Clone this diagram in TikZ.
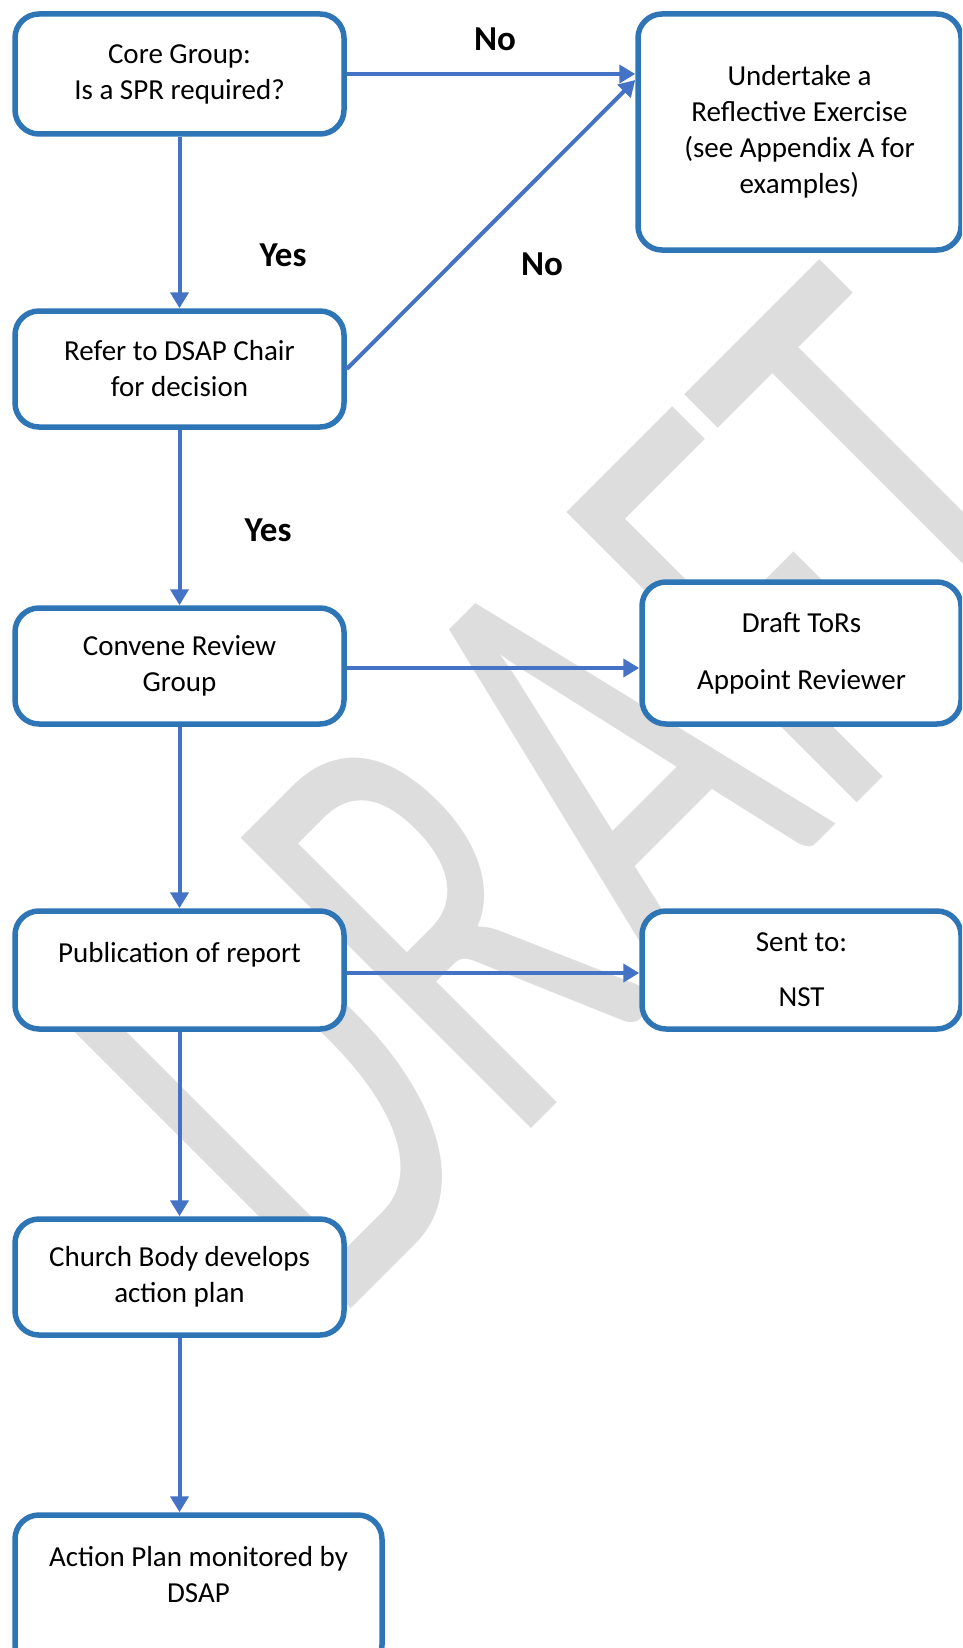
\documentclass[tikz,border=0pt]{standalone}
\usepackage{fontspec}
\setmainfont{Carlito}
\usetikzlibrary{arrows.meta}
\definecolor{boxblue}{RGB}{46,117,182}
\definecolor{arrowblue}{RGB}{68,114,196}
\definecolor{wmgray}{RGB}{221,221,221}

\begin{document}
\begin{tikzpicture}[x=1pt, y=-1pt,
  box/.style={draw=boxblue, line width=5.5pt, rounded corners=24pt, fill=white,
    align=center, inner sep=0pt, font=\fontsize{29}{36}\selectfont},
  flow/.style={draw=arrowblue, line width=4pt, -{Triangle[length=16pt,width=18pt]}},
  lbl/.style={font=\fontsize{35}{42}\selectfont\bfseries}]

\useasboundingbox (0,0) rectangle (962,1648);
\clip (0,0) rectangle (962,1648);

% watermark behind everything
\node[rotate=45, anchor=base west, inner sep=0, text=wmgray,
  font=\fontsize{640}{640}\selectfont] (wm) at (331,1329) {\scalebox{0.644}[1]{DRAFT}};

% left column
\node[box, minimum width=329pt, minimum height=120pt] (core) at (179.5,74) {Core Group:\\Is a SPR required?};
\node[box, minimum width=329pt, minimum height=116pt] (refer) at (179.5,369) {Refer to DSAP Chair\\for decision};
\node[box, minimum width=329pt, minimum height=116pt] (convene) at (179.5,666) {Convene Review\\Group};
\node[box, minimum width=329pt, minimum height=118pt] (pub) at (179.5,970) {Publication of report\\\mbox{}};
\node[box, minimum width=329pt, minimum height=116pt] (church) at (179.5,1277) {Church Body develops\\action plan};
\node[box, minimum width=367pt, minimum height=154pt] (action) at (198.5,1592) {Action Plan monitored by\\DSAP\\\mbox{}};

% right column
\node[box, minimum width=323pt, minimum height=236pt] (undertake) at (799.5,132) {Undertake a\\Reflective Exercise\\(see Appendix A for\\examples)};
\node[box, minimum width=319pt, minimum height=142pt] (draft) at (801.5,653) {Draft ToRs\\[21pt]Appoint Reviewer};
\node[box, minimum width=319pt, minimum height=118pt] (sent) at (801.5,970) {Sent to:\\[19pt]NST};

% arrows
\foreach \a/\b in {core/refer, refer/convene, convene/pub, pub/church}
\draw[flow] (\a) -- (\b);
\draw[flow] (church.south) -- (church.south |- action.north);
\draw[flow] (core.east) -- (core.east -| undertake.west);
\draw[flow] (refer.east) -- ([yshift=-6pt]core.east -| undertake.west);
\draw[flow] ([yshift=-2pt]convene.east) -- ([yshift=-2pt]convene.east -| draft.west);
\draw[flow] ([yshift=-3pt]pub.east) -- ([yshift=-3pt]pub.east -| sent.west);

\node[lbl] (no1) at (495,39) {No};
\node[lbl] (yes1) at (283,255) {Yes};
\node[lbl] (no2) at (542,264) {No};
\node[lbl] (yes2) at (268,530) {Yes};

\end{tikzpicture}
\end{document}
